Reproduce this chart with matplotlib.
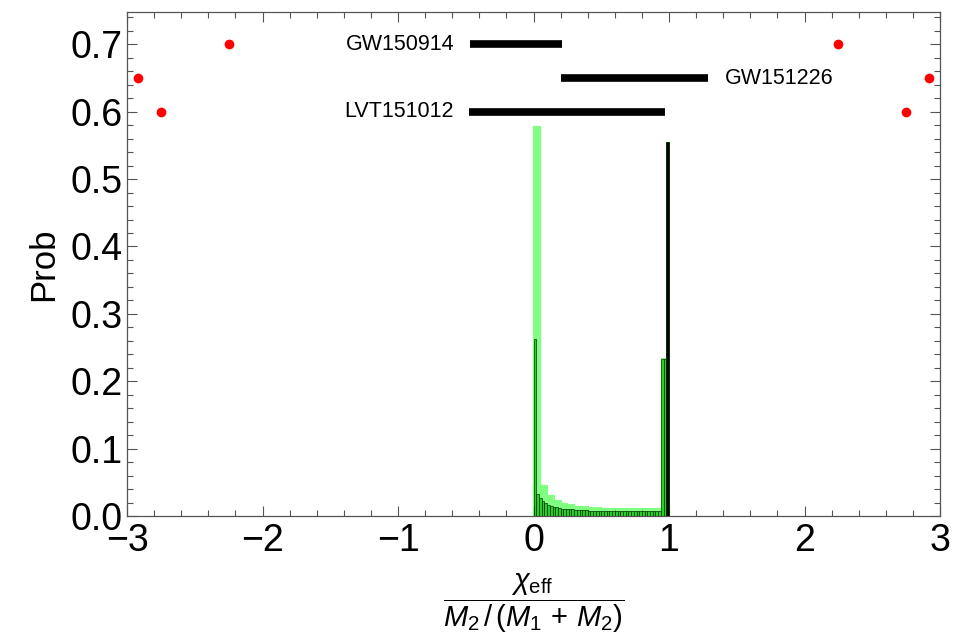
"""
Effective-spin distribution scaled by the secondary mass fraction,
with the LIGO event intervals drawn as horizontal bars.
"""

import matplotlib
matplotlib.use('Agg')
import matplotlib.pyplot as plt
import numpy as np
from matplotlib.ticker import MultipleLocator

plt.rcParams.update({
    'font.family': 'Liberation Sans',
    'mathtext.fontset': 'custom',
    'mathtext.rm': 'Liberation Sans',
    'mathtext.it': 'Liberation Sans:italic',
    'mathtext.bf': 'Liberation Sans:bold',
    'font.size': 23,
})

# Coarse histogram (bin width 0.05 on [0, 1])
coarse_width = 0.05
coarse_prob = [0.577, 0.045, 0.030, 0.022, 0.018, 0.016, 0.014, 0.013, 0.012, 0.012,
               0.011, 0.011, 0.011, 0.011, 0.011, 0.011, 0.011, 0.011, 0.011, 0.233]

# Fine histogram (bin width 0.02 on [0, 1])
fine_width = 0.02
fine_prob = ([0.263, 0.032, 0.027, 0.022, 0.019, 0.017, 0.015, 0.014, 0.013, 0.012,
              0.011, 0.011, 0.010, 0.010, 0.010, 0.009, 0.009, 0.009, 0.009, 0.009]
             + [0.008] * 27 + [0.233, 0.233, 0.555])

# Event intervals: (name, low, high, prob level)
events = ['GW150914', 'GW151226', 'LVT151012']
event_lo = [-0.47, 0.20, -0.48]
event_hi = [0.21, 1.29, 0.97]
event_y = [0.70, 0.65, 0.60]

# Marker points
dot_x = [-2.92, -2.75, -2.25, 2.25, 2.75, 2.92]
dot_y = [0.65, 0.60, 0.70, 0.70, 0.60, 0.65]

fig = plt.figure(figsize=(9.61, 6.39), dpi=100)
ax = fig.add_axes([0.1322, 0.1925, 0.8460, 0.7887])

coarse_left = np.arange(len(coarse_prob)) * coarse_width
fine_left = np.arange(len(fine_prob)) * fine_width

ax.bar(coarse_left, coarse_prob, width=coarse_width, align='edge',
       color='#80ff80', edgecolor='#80ff80', linewidth=1.5, zorder=1)
fine_bars = ax.bar(fine_left, fine_prob, width=fine_width, align='edge',
                   color='#00c000', alpha=0.7, edgecolor='#003000', linewidth=0.7,
                   zorder=2)
# spike at chi = 1 is drawn solid
fine_bars[-1].set_facecolor('black')
fine_bars[-1].set_alpha(1.0)

for name, lo, hi, y in zip(events, event_lo, event_hi, event_y):
    ax.plot([lo, hi], [y, y], color='black', lw=5.5, solid_capstyle='butt', zorder=3)
    if name == 'GW151226':
        ax.text(hi + 0.12, y, name, ha='left', va='center', fontsize=15.5)
    else:
        ax.text(lo - 0.11, y, name, ha='right', va='center', fontsize=15.5)

ax.plot(dot_x, dot_y, 'o', color='#ff0000', ms=7, mec='none', zorder=4, clip_on=False)

ax.set_xlim(-3, 3)
ax.set_ylim(0, 0.748)
ax.xaxis.set_minor_locator(MultipleLocator(0.2))
ax.yaxis.set_minor_locator(MultipleLocator(0.02))
ax.set_xticks(np.arange(-3, 4, 1))
ax.set_xticklabels(['\u22123', '\u22122', '\u22121', '0', '1', '2', '3'])
ax.set_yticks(np.arange(0, 0.71, 0.1))
ax.set_yticklabels([f'{v:.1f}' for v in np.arange(0, 0.71, 0.1)])

ax.tick_params(which='both', direction='in', top=True, right=True,
               color='#555555', width=0.8, labelsize=27)
ax.tick_params(which='major', length=7)
ax.tick_params(which='minor', length=4)
ax.tick_params(axis='y', which='major', pad=3)
ax.tick_params(axis='x', which='major', pad=5)
for sp in ax.spines.values():
    sp.set_color('#555555')
    sp.set_linewidth(0.9)

ax.set_ylabel('Prob', fontsize=25, labelpad=8)
ax.set_xlabel(r'$\dfrac{\chi_{\rm eff}}{M_2\,/\,(M_1\,+\,M_2)}$', fontsize=21, labelpad=9)

plt.savefig('out.png', dpi=100)
plt.close()
